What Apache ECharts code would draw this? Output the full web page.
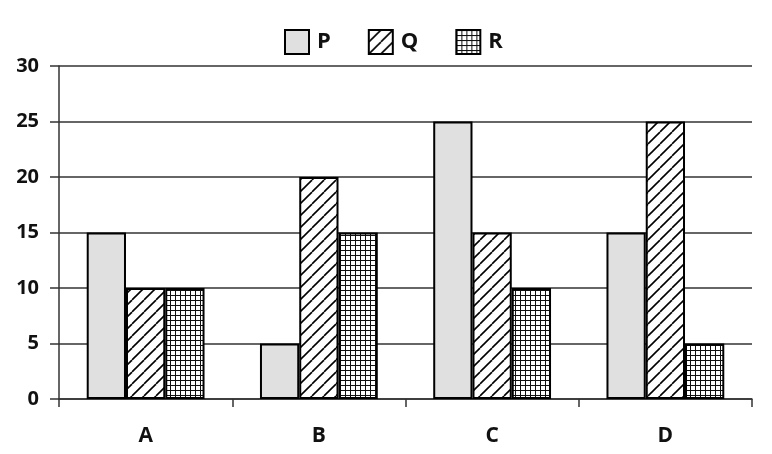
<!DOCTYPE html>
<html><head><meta charset="utf-8">
<script src="https://cdn.jsdelivr.net/npm/echarts@6/dist/echarts.min.js"></script>
<style>html,body{margin:0;padding:0;background:#fff}#c{width:772px;height:454px}</style>
</head><body><div id="c"></div>
<script>
const categories = ['A', 'B', 'C', 'D'];
const seriesNames = ['P', 'Q', 'R'];
const valuesP = [15, 5, 25, 15];
const valuesQ = [10, 20, 15, 25];
const valuesR = [10, 15, 10, 5];
const yTicks = [0, 5, 10, 15, 20, 25, 30];

function hatchPattern() {
  const s = 12, c = document.createElement('canvas');
  c.width = s; c.height = s;
  const g = c.getContext('2d');
  g.fillStyle = '#fff'; g.fillRect(0, 0, s, s);
  g.strokeStyle = '#000'; g.lineWidth = 1.6;
  for (const o of [-s, 0, s]) {
    g.beginPath(); g.moveTo(o, s); g.lineTo(o + s, 0); g.stroke();
  }
  return c;
}
function gridPattern() {
  const s = 5, c = document.createElement('canvas');
  c.width = s; c.height = s;
  const g = c.getContext('2d');
  g.fillStyle = '#fff'; g.fillRect(0, 0, s, s);
  g.fillStyle = '#111';
  g.fillRect(0, 0, s, 1);
  g.fillRect(0, 0, 1, s);
  return c;
}

const fills = [
  '#e0e0e0',
  { image: hatchPattern(), repeat: 'repeat' },
  { image: gridPattern(), repeat: 'repeat' }
];
const data = [valuesP, valuesQ, valuesR];

const chart = echarts.init(document.getElementById('c'), null, { renderer: 'canvas' });
const font = '"Open Sans", "Liberation Sans", sans-serif';
chart.setOption({
  animation: false,
  backgroundColor: '#fff',
  legend: {
    top: 24, left: 279,
    itemWidth: 24, itemHeight: 24, itemGap: 37,
    icon: 'rect',
    textStyle: { fontFamily: font, fontWeight: 'bold', fontSize: 22, color: '#111', padding: [0, 0, 0, 3] },
    data: seriesNames
  },
  grid: { left: 59, right: 20, top: 66, bottom: 55 },
  xAxis: {
    type: 'category', data: categories,
    axisLine: { lineStyle: { color: '#333', width: 1.5 } },
    axisTick: { show: true, length: 8, lineStyle: { color: '#333', width: 1.5 } },
    axisLabel: { margin: 27, fontFamily: font, fontWeight: 'bold', fontSize: 21, color: '#111' }
  },
  yAxis: {
    type: 'value', min: 0, max: 30, interval: 5,
    axisLine: { show: true, lineStyle: { color: '#333', width: 1.5 } },
    axisTick: { show: true, length: 9, lineStyle: { color: '#333', width: 1.5 } },
    splitLine: { lineStyle: { color: '#333', width: 1.5 } },
    axisLabel: { margin: 20, fontFamily: font, fontWeight: 'bold', fontSize: 20, color: '#111',
      formatter: v => yTicks.includes(v) ? String(v) : '' }
  },
  series: seriesNames.map((n, i) => ({
    name: n, type: 'bar', data: data[i],
    barGap: '0%', barCategoryGap: '32%',
    itemStyle: { color: fills[i], borderColor: '#000', borderWidth: 2 }
  }))
});
</script></body></html>
